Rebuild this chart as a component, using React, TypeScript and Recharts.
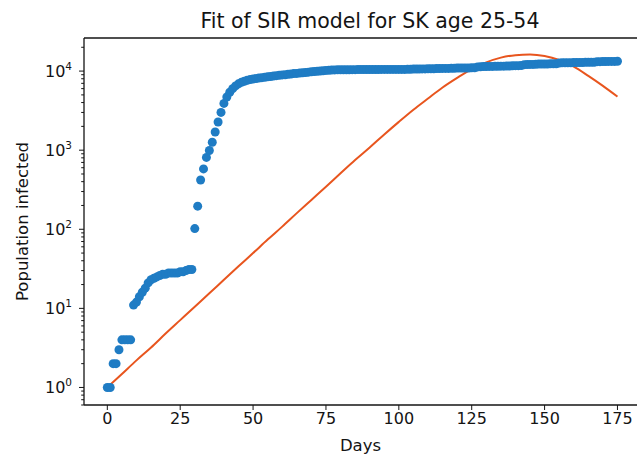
import React from 'react';
import { ComposedChart, Scatter, Line, XAxis, YAxis, ReferenceLine, Label } from 'recharts';

// Observed infected population, one value per day starting at day 0
const infected: number[] = [
  1, 1, 2, 2, 3, 4, 4, 4, 4,
  11, 12, 14, 16, 18, 21, 23, 24, 25, 26, 27, 27, 28, 28, 28, 28, 29, 29, 30, 31, 31,
  102, 196, 420, 580, 810, 990, 1260, 1700, 2270, 3000,
  3900, 4700, 5400, 6000, 6500, 6900, 7200, 7450, 7650, 7800, 7950,
  8050, 8150, 8250, 8350, 8450, 8550, 8650, 8750, 8850, 8950,
  9000, 9100, 9200, 9300, 9350, 9450, 9500, 9600, 9700, 9800,
  9850, 9950, 10000, 10100, 10200, 10250, 10300, 10350, 10400, 10400,
  10400, 10400, 10400, 10420, 10430, 10440, 10450, 10450, 10460, 10470,
  10470, 10480, 10480, 10490, 10490, 10500, 10500, 10500, 10500, 10500,
  10500, 10500, 10550, 10550, 10600, 10600, 10600, 10650, 10650, 10700,
  10700, 10700, 10750, 10750, 10800, 10800, 10800, 10850, 10850, 10900,
  10900, 10900, 10950, 10950, 11000, 11000, 11300, 11350, 11400, 11400,
  11450, 11450, 11500, 11500, 11550, 11550, 11600, 11600, 11650, 11700,
  11700, 11750, 12050, 12100, 12150, 12150, 12200, 12250, 12250, 12300,
  12300, 12350, 12350, 12400, 12650, 12700, 12700, 12750, 12750, 12800,
  12800, 12850, 12850, 12900, 12900, 12950, 12950, 13150, 13150, 13200,
  13200, 13250, 13250, 13250, 13300,
];

// SIR model fit, sampled every 5 days
const fitDays: number[] = [
  0, 5, 10, 15, 20, 25, 30, 35, 40, 45, 50, 55, 60, 65, 70, 75, 80, 85,
  90, 95, 100, 105, 110, 115, 120, 125, 130, 135, 140, 145, 150, 155, 160, 165, 170, 175,
];
const fitValues: number[] = [
  1, 1.48, 2.2, 3.2, 4.8, 7.1, 10.5, 15.5, 23, 34, 50, 74, 108, 160, 235, 345, 510, 750,
  1080, 1580, 2280, 3250, 4500, 6200, 8200, 10600, 12900, 14800, 15900, 16200, 15500, 13800, 11400, 8700, 6500, 4750,
];

const xTicks: number[] = [0, 25, 50, 75, 100, 125, 150, 175];
const yTicks: number[] = [
  0.6, 0.7, 0.8, 0.9,
  1, 2, 3, 4, 5, 6, 7, 8, 9,
  10, 20, 30, 40, 50, 60, 70, 80, 90,
  100, 200, 300, 400, 500, 600, 700, 800, 900,
  1000, 2000, 3000, 4000, 5000, 6000, 7000, 8000, 9000,
  10000, 20000,
];

const X_DOMAIN: [number, number] = [-8, 181.7];
const Y_DOMAIN: [number, number] = [0.6, 26200];

const observed = infected.map((v, i) => ({ day: i, value: v }));
const fit = fitDays.map((d, i) => ({ day: d, value: fitValues[i] }));

const FONT = '"DejaVu Sans", sans-serif';
const INK = '#141414';
const Y_TICK_SIZE = 5;
const Y_TICK_MARGIN = 7;

const YTick = (props: any) => {
  const { x, y, payload } = props;
  const v = payload.value as number;
  const lg = Math.log10(v);
  const exp = Math.round(lg);
  const isMajor = Math.abs(lg - exp) < 1e-6;
  const axisX = x + Y_TICK_MARGIN + Y_TICK_SIZE;
  return (
    <g>
      <line
        x1={axisX - (isMajor ? 5 : 2.8)}
        x2={axisX}
        y1={y}
        y2={y}
        stroke={INK}
        strokeWidth={1}
      />
      {isMajor && (
        <text x={x} y={y + 5.5} textAnchor="end" fontSize={16} fill={INK} fontFamily={FONT}>
          <tspan>10</tspan>
          <tspan dy={-7} fontSize={10.5}>{exp}</tspan>
        </text>
      )}
    </g>
  );
};

const Dot = (props: any) => {
  const { cx, cy } = props;
  if (cx == null || cy == null) return null;
  return <circle cx={cx} cy={cy} r={4.5} fill="#1f7cc4" />;
};

export default function App() {
  return (
    <div style={{ position: 'absolute', left: 0, top: 0, width: 637, height: 461, background: '#fff' }}>
      <div
        style={{
          position: 'absolute',
          left: 84,
          top: 9,
          width: 572,
          textAlign: 'center',
          fontFamily: FONT,
          fontSize: 20.5,
          color: INK,
          whiteSpace: 'nowrap',
        }}
      >
        Fit of SIR model for SK age 25-54
      </div>
      <ComposedChart
        width={637}
        height={461}
        margin={{ top: 38, right: 0, bottom: 0, left: 0 }}
      >
        <XAxis
          dataKey="day"
          type="number"
          domain={X_DOMAIN}
          allowDataOverflow
          ticks={xTicks}
          interval={0}
          height={56}
          tickSize={5}
          tickMargin={3}
          axisLine={{ stroke: INK, strokeWidth: 1.3 }}
          tickLine={{ stroke: INK }}
          tick={{ fill: INK, fontSize: 16, fontFamily: FONT }}
        >
          <Label value="Days" position="insideBottom" offset={10} fill={INK} fontSize={16.5} fontFamily={FONT} />
        </XAxis>
        <YAxis
          dataKey="value"
          type="number"
          scale="log"
          domain={Y_DOMAIN}
          allowDataOverflow
          ticks={yTicks}
          interval={0}
          width={84}
          tickSize={Y_TICK_SIZE}
          tickMargin={Y_TICK_MARGIN}
          tickLine={false}
          axisLine={{ stroke: INK, strokeWidth: 1.3 }}
          tick={<YTick />}
        >
          <Label
            value="Population infected"
            angle={-90}
            position="insideLeft"
            offset={22}
            fill={INK}
            fontSize={16.5}
            fontFamily={FONT}
            style={{ textAnchor: 'middle' }}
          />
        </YAxis>
        <ReferenceLine y={Y_DOMAIN[1]} stroke={INK} strokeWidth={1.3} />
        <Scatter data={observed} dataKey="value" shape={<Dot />} isAnimationActive={false} />
        <Line
          data={fit}
          dataKey="value"
          type="monotone"
          stroke="#e8551e"
          strokeWidth={2}
          dot={false}
          isAnimationActive={false}
        />
      </ComposedChart>
    </div>
  );
}
